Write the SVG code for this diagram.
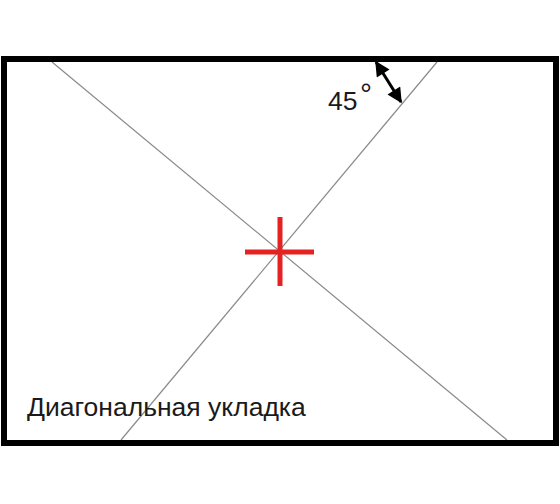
<svg xmlns="http://www.w3.org/2000/svg" width="560" height="504" viewBox="0 0 560 504">
<style>
.diag{stroke:#8a8a8a;stroke-width:1.2;fill:none}
.lbl{font-family:"Liberation Sans",Arial,sans-serif;fill:#1a1a1a}
</style>
<defs>
<marker id="ah" viewBox="0 0 10 10" refX="9" refY="5" markerWidth="5.5" markerHeight="5" orient="auto-start-reverse" markerUnits="strokeWidth">
<path d="M0,0 L10,5 L0,10 z" fill="#000"/>
</marker>
</defs>
<rect width="560" height="504" fill="#fff"/>
<g id="connectors">
<line class="diag" x1="52" y1="62" x2="507" y2="440"/>
<line class="diag" x1="437" y1="62" x2="121" y2="440"/>
<line x1="376" y1="62" x2="401" y2="102" stroke="#000" stroke-width="3" marker-start="url(#ah)" marker-end="url(#ah)"/>
</g>
<g id="frame">
<rect x="4" y="59" width="552" height="384" fill="none" stroke="#000" stroke-width="6"/>
</g>
<g id="center">
<line x1="280" y1="217" x2="280" y2="286" stroke="#e52222" stroke-width="5"/>
<line x1="245" y1="252" x2="314" y2="252" stroke="#e52222" stroke-width="5"/>
</g>
<g id="angle">
<text class="lbl" x="328" y="110" font-size="26.5">45<tspan x="360" y="104" font-size="30">°</tspan></text>
</g>
<g id="caption">
<text class="lbl" x="27" y="416" font-size="26.5">Диагональная укладка</text>
</g>
</svg>
